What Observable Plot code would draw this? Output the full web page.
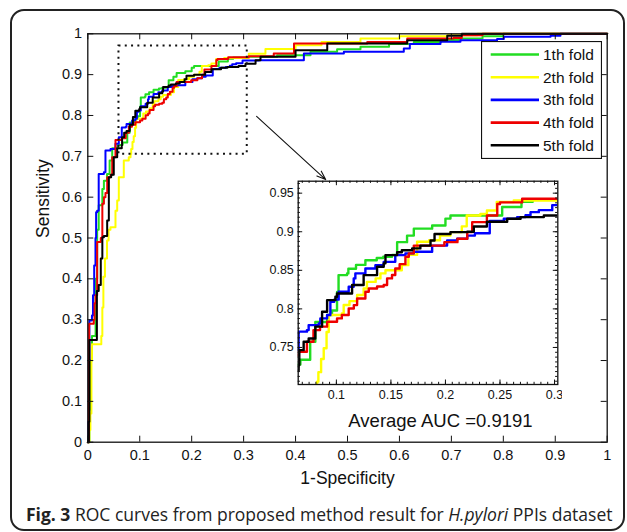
<!DOCTYPE html>
<html>
<head>
<meta charset="utf-8">
<script src="https://cdn.jsdelivr.net/npm/d3@7"></script>
<script src="https://cdn.jsdelivr.net/npm/@observablehq/plot@0.6"></script>
<style>
  html, body { margin: 0; padding: 0; background: #fff; }
  #wrap { position: relative; width: 627px; height: 532px; overflow: hidden; background: #fff; }
  #border { position: absolute; left: 10px; top: 9px; width: 615px; height: 522px; box-sizing: border-box;
            border: 2px solid #222; border-radius: 14px; }
  .abs { position: absolute; }
</style>
</head>
<body>
<div id="wrap"><div id="border"></div></div>
<script>
// ---------------- data ----------------
const folds = ["1th fold", "2th fold", "3th fold", "4th fold", "5th fold"];
const foldColors = ["#22dd22", "#ffff00", "#0000ff", "#ee0000", "#000000"];

// [1-specificity, sensitivity]
const fold1 = [[0,0],[0.003,0.08],[0.005,0.2],[0.008,0.26],[0.015,0.40],[0.018,0.52],[0.021,0.58],[0.028,0.62],[0.031,0.64],[0.037,0.657],[0.042,0.69],[0.047,0.72],[0.058,0.728],[0.067,0.734],[0.076,0.7575],[0.0807,0.783],[0.0915,0.792],[0.096,0.798],[0.1006,0.822],[0.102,0.8438],[0.1098,0.846],[0.111,0.852],[0.118,0.857],[0.1266,0.863],[0.137,0.866],[0.143,0.8676],[0.151,0.870],[0.1557,0.8865],[0.1648,0.895],[0.171,0.904],[0.1878,0.908],[0.2,0.917],[0.2046,0.921],[0.252,0.932],[0.2697,0.9389],[0.28,0.942],[0.31,0.944],[0.3646,0.9476],[0.4288,0.956],[0.48,0.962],[0.525,0.968],[0.58,0.975],[0.6277,0.980],[0.68,0.985],[0.7175,0.9885],[0.76,0.994],[0.8,1],[1,1]];
const fold2 = [[0,0],[0.003,0.03],[0.005,0.07],[0.007,0.2],[0.008,0.24],[0.026,0.26],[0.028,0.33],[0.03,0.405],[0.033,0.45],[0.037,0.494],[0.04,0.52],[0.0436,0.5265],[0.0533,0.567],[0.0566,0.592],[0.0597,0.649],[0.0693,0.69],[0.0789,0.698],[0.0823,0.7057],[0.0835,0.718],[0.086,0.735],[0.0884,0.749],[0.091,0.77],[0.093,0.792],[0.105,0.794],[0.1067,0.805],[0.112,0.81],[0.119,0.818],[0.125,0.8265],[0.128,0.835],[0.136,0.8395],[0.1404,0.846],[0.145,0.85],[0.16,0.8567],[0.166,0.87],[0.174,0.887],[0.185,0.889],[0.195,0.895],[0.2046,0.8995],[0.215,0.907],[0.2195,0.921],[0.232,0.923],[0.238,0.9275],[0.247,0.9385],[0.2626,0.9405],[0.31,0.951],[0.342,0.963],[0.40,0.972],[0.45,0.98],[0.525,0.9885],[0.6,0.994],[0.692,0.9966],[0.75,1],[1,1]];
const fold3 = [[0,0],[0.001,0.05],[0.002,0.2],[0.003,0.298],[0.008,0.31],[0.01,0.36],[0.0123,0.4327],[0.0148,0.5],[0.016,0.563],[0.018,0.567],[0.021,0.657],[0.031,0.661],[0.034,0.714],[0.0437,0.718],[0.0533,0.7307],[0.0597,0.747],[0.0654,0.7705],[0.073,0.7725],[0.0746,0.779],[0.0838,0.781],[0.0853,0.7877],[0.0915,0.792],[0.0945,0.8093],[0.098,0.812],[0.1021,0.8223],[0.1113,0.8287],[0.1159,0.8395],[0.1174,0.846],[0.1266,0.8524],[0.1358,0.8567],[0.1434,0.861],[0.154,0.8697],[0.1633,0.872],[0.171,0.874],[0.1878,0.882],[0.2015,0.8887],[0.2107,0.891],[0.22,0.895],[0.227,0.898],[0.2406,0.914],[0.2535,0.9168],[0.2657,0.919],[0.2734,0.9215],[0.278,0.9254],[0.2856,0.928],[0.2979,0.9345],[0.33,0.9354],[0.416,0.952],[0.493,0.956],[0.6084,0.964],[0.62,0.975],[0.679,0.9804],[0.7175,0.9843],[0.788,0.987],[0.801,0.9926],[0.891,0.995],[0.91,1],[1,1]];
const fold4 = [[0,0],[0.002,0.1],[0.0025,0.29],[0.0115,0.30],[0.013,0.34],[0.015,0.36],[0.018,0.49],[0.025,0.50],[0.028,0.5837],[0.031,0.60],[0.034,0.61],[0.0374,0.649],[0.044,0.655],[0.047,0.698],[0.0533,0.74],[0.0654,0.7445],[0.073,0.7575],[0.079,0.7725],[0.085,0.777],[0.0915,0.7834],[0.1006,0.7877],[0.105,0.792],[0.1113,0.8005],[0.116,0.8049],[0.119,0.8135],[0.1266,0.8223],[0.1297,0.8264],[0.1373,0.829],[0.1434,0.831],[0.1465,0.8395],[0.151,0.844],[0.154,0.8524],[0.158,0.858],[0.1633,0.8676],[0.1664,0.872],[0.171,0.882],[0.199,0.8865],[0.211,0.891],[0.22,0.8995],[0.2245,0.9124],[0.238,0.921],[0.2475,0.936],[0.25,0.938],[0.2703,0.9427],[0.31,0.945],[0.358,0.952],[0.397,0.976],[0.538,0.98],[0.615,0.9885],[0.704,0.990],[0.72,0.9966],[0.76,1],[1,1]];
const fold5 = [[0,0],[0.002,0.05],[0.003,0.25],[0.017,0.25],[0.0175,0.37],[0.021,0.385],[0.025,0.45],[0.028,0.502],[0.031,0.505],[0.0373,0.543],[0.0405,0.649],[0.045,0.655],[0.05,0.698],[0.0566,0.72],[0.0654,0.7272],[0.066,0.7465],[0.07,0.7575],[0.0746,0.7617],[0.0807,0.777],[0.0869,0.7963],[0.0915,0.8113],[0.0991,0.8158],[0.1006,0.82],[0.1144,0.831],[0.125,0.8438],[0.1373,0.8547],[0.1434,0.859],[0.145,0.8697],[0.1557,0.8735],[0.16,0.876],[0.1695,0.8784],[0.177,0.882],[0.1863,0.8887],[0.19,0.897],[0.2046,0.8995],[0.22,0.90],[0.226,0.9067],[0.238,0.913],[0.2566,0.9168],[0.2689,0.919],[0.2902,0.921],[0.3036,0.9265],[0.323,0.935],[0.3325,0.944],[0.40,0.96],[0.461,0.976],[0.615,0.984],[0.692,0.995],[0.72,1],[1,1]];

const mainTicks = [0, 0.1, 0.2, 0.3, 0.4, 0.5, 0.6, 0.7, 0.8, 0.9, 1];
const insetXTicks = [0.1, 0.15, 0.2, 0.25, 0.3];
const insetYTicks = [0.75, 0.8, 0.85, 0.9, 0.95];
const insetXDomain = [0.065, 0.303];
const insetYDomain = [0.702, 0.9655];
const zoomBox = [{x1: 0.06, x2: 0.307, y1: 0.705, y2: 0.97}];
const arrowSeg = [{x1: 0.325, y1: 0.798, x2: 0.458, y2: 0.643}];
const aucNote = [{x: 0.679, y: 0.038, label: "Average AUC =0.9191"}];
const xLabel = "1-Specificity";
const yLabel = "Sensitivity";
const captionParts = [
  {text: "Fig. 3", weight: "bold", style: "normal"},
  {text: " ROC curves from proposed method result for ", weight: "normal", style: "normal"},
  {text: "H.pylori", weight: "normal", style: "italic"},
  {text: " PPIs dataset", weight: "normal", style: "normal"}
];

// ---------------- build ----------------
const rows = [fold1, fold2, fold3, fold4, fold5].flatMap((pts, i) =>
  pts.map(([x, y]) => ({fold: folds[i], x, y})));
const fmt = d => String(+d.toFixed(2));
const FONT = "'Liberation Sans', Arial, Helvetica, sans-serif";
const wrap = document.getElementById("wrap");

// main plot
const M = {l: 87.3, r: 20.3, t: 33.3, b: 58.3, w: 627, h: 500};
const FW = M.w - M.l - M.r, FH = M.h - M.t - M.b;
const TK = 6;
const main = Plot.plot({
  width: M.w, height: M.h,
  marginLeft: M.l, marginRight: M.r, marginTop: M.t, marginBottom: M.b,
  x: {domain: [0, 1]}, y: {domain: [0, 1]},
  color: {domain: folds, range: foldColors},
  style: {fontFamily: FONT, fontSize: "14.5px", background: "transparent", color: "#111"},
  marks: [
    Plot.line(rows, {x: "x", y: "y", z: "fold", stroke: "fold", curve: "step-after", strokeWidth: 2}),
    Plot.rect(zoomBox, {x1: "x1", x2: "x2", y1: "y1", y2: "y2", fill: "none", stroke: "#111",
      strokeWidth: 2, strokeDasharray: "2,4.3"}),
    Plot.arrow(arrowSeg, {x1: "x1", y1: "y1", x2: "x2", y2: "y2", stroke: "#111", strokeWidth: 1.1, headLength: 13, headAngle: 40}),
    Plot.frame({stroke: "#111", strokeWidth: 1.3}),
    Plot.tickX(mainTicks, {x: d => d, insetTop: FH - TK, stroke: "#111"}),
    Plot.tickX(mainTicks, {x: d => d, insetBottom: FH - TK, stroke: "#111"}),
    Plot.tickY(mainTicks, {y: d => d, insetRight: FW - TK, stroke: "#111"}),
    Plot.tickY(mainTicks, {y: d => d, insetLeft: FW - TK, stroke: "#111"}),
    Plot.axisX({ticks: mainTicks, tickSize: 0, tickPadding: 7.6, tickFormat: fmt, label: null}),
    Plot.axisY({ticks: mainTicks, tickSize: 0, tickPadding: 5.6, tickFormat: fmt, label: null}),
    Plot.text([xLabel], {frameAnchor: "bottom", lineAnchor: "bottom", dy: 41.5, text: d => d, fontSize: 17.5}),
    Plot.text([yLabel], {frameAnchor: "left", lineAnchor: "middle", rotate: -90, dx: -44.5, text: d => d, fontSize: 17.5}),
    Plot.text(aucNote, {x: "x", y: "y", text: "label", lineAnchor: "bottom", fontSize: 18.5})
  ]
});
main.classList.add("abs");
main.style.left = "0px"; main.style.top = "0px";
wrap.appendChild(main);

// inset plot
const I = {left: 260, top: 170, w: 302, h: 240, l: 37.7, t: 10.7, fw: 259.6, fh: 203.3};
I.r = I.w - I.l - I.fw; I.b = I.h - I.t - I.fh;
const step = 0.05 / 8;
const minorX = d3.range(Math.ceil((insetXDomain[0] - 0.1) / step), Math.floor((insetXDomain[1] - 0.1) / step) + 1)
  .map(k => 0.1 + k * step).filter(v => v > insetXDomain[0] && v < insetXDomain[1]);
const minorY = d3.range(Math.ceil((insetYDomain[0] - 0.75) / step), Math.floor((insetYDomain[1] - 0.75) / step) + 1)
  .map(k => 0.75 + k * step).filter(v => v > insetYDomain[0] && v < insetYDomain[1]);
const TI = 4.5, TM = 2.2;
const inset = Plot.plot({
  width: I.w, height: I.h,
  marginLeft: I.l, marginRight: I.r, marginTop: I.t, marginBottom: I.b,
  x: {domain: insetXDomain}, y: {domain: insetYDomain},
  color: {domain: folds, range: foldColors},
  style: {fontFamily: FONT, fontSize: "12.5px", background: "transparent", color: "#111"},
  marks: [
    Plot.frame({fill: "#fff"}),
    Plot.line(rows, {x: "x", y: "y", z: "fold", stroke: "fold", curve: "step-after", strokeWidth: 2.4, clip: true}),
    Plot.frame({stroke: "#111", strokeWidth: 1.3}),
    Plot.tickX(minorX, {x: d => d, insetTop: I.fh - TM, stroke: "#111"}),
    Plot.tickX(minorX, {x: d => d, insetBottom: I.fh - TM, stroke: "#111"}),
    Plot.tickY(minorY, {y: d => d, insetRight: I.fw - TM, stroke: "#111"}),
    Plot.tickY(minorY, {y: d => d, insetLeft: I.fw - TM, stroke: "#111"}),
    Plot.tickX(insetXTicks, {x: d => d, insetTop: I.fh - TI, stroke: "#111"}),
    Plot.tickX(insetXTicks, {x: d => d, insetBottom: I.fh - TI, stroke: "#111"}),
    Plot.tickY(insetYTicks, {y: d => d, insetRight: I.fw - TI, stroke: "#111"}),
    Plot.tickY(insetYTicks, {y: d => d, insetLeft: I.fw - TI, stroke: "#111"}),
    Plot.axisX({ticks: insetXTicks, tickSize: 0, tickPadding: 5.5, tickFormat: fmt, label: null}),
    Plot.axisY({ticks: insetYTicks, tickSize: 0, tickPadding: 4.4, tickFormat: fmt, label: null})
  ]
});
inset.classList.add("abs");
inset.style.left = I.left + "px"; inset.style.top = I.top + "px";
wrap.appendChild(inset);

// legend
const L = {left: 481, top: 41, w: 120, h: 117, y0: 13.5, dy: 22.7, lx1: 9.7, lx2: 58, tx: 62};
const leg = d3.select(wrap).append("svg").attr("class", "abs")
  .style("left", L.left + "px").style("top", L.top + "px")
  .attr("width", L.w + 1).attr("height", L.h + 1);
leg.append("rect").attr("x", 0.5).attr("y", 0.5).attr("width", L.w).attr("height", L.h)
  .attr("fill", "#fff").attr("stroke", "#111").attr("stroke-width", 1.2);
folds.forEach((f, i) => {
  const y = L.y0 + i * L.dy;
  leg.append("line").attr("x1", L.lx1).attr("x2", L.lx2).attr("y1", y).attr("y2", y)
    .attr("stroke", foldColors[i]).attr("stroke-width", 2.6);
  leg.append("text").attr("x", L.tx).attr("y", y).attr("dy", "0.36em")
    .attr("font-family", FONT).attr("font-size", 15.5).attr("fill", "#111").text(f);
});

// caption (single text, horizontally condensed to the reference width)
const CAP = {x: 26, baseline: 25, width: 587, size: 18.5};
const cap = d3.select(wrap).append("svg").attr("class", "abs")
  .style("left", "0px").style("top", "496px").attr("width", 627).attr("height", 34);
const cg = cap.append("g");
const ct = cg.append("text").attr("x", 0).attr("y", 0)
  .attr("font-family", "'Open Sans', 'Noto Sans', sans-serif").attr("font-size", CAP.size)
  .attr("fill", "#222").attr("xml:space", "preserve").style("white-space", "pre");
captionParts.forEach(p => ct.append("tspan").attr("font-weight", p.weight).attr("font-style", p.style).text(p.text));
const natural = ct.node().getComputedTextLength() || CAP.width;
cg.attr("transform", `translate(${CAP.x},${CAP.baseline}) scale(${CAP.width / natural},1)`);
</script>
</body>
</html>
